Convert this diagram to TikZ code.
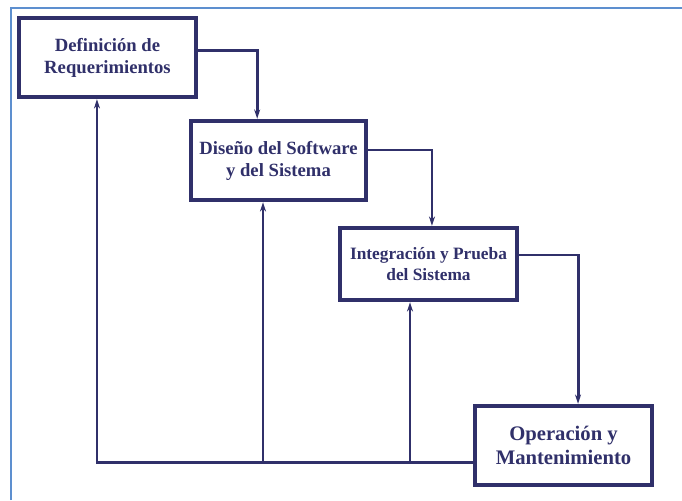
\documentclass[tikz,border=0pt]{standalone}
\usepackage{fontspec}
\setmainfont{Liberation Serif}
\usetikzlibrary{arrows.meta}

\definecolor{navy}{HTML}{30306A}
\definecolor{frameblue}{HTML}{5D8FCF}

\tikzset{
  etapa/.style={draw=navy,line width=3.3pt,fill=white,align=center,
    font=\fontsize{14}{16.5}\selectfont\bfseries,text=navy,inner sep=0pt},
  flujo/.style={draw=navy,line width=2.2pt,-{Stealth[length=7pt,width=4.5pt]}},
}

\begin{document}
\begin{tikzpicture}[x=0.75pt,y=-0.75pt]
\useasboundingbox (0,0) rectangle (682,500);
\draw[frameblue,line width=1.6pt] (11,500) -- (11,8) -- (682,8);

\node[etapa,minimum width=132.75pt,minimum height=59.25pt] (req) at (107.5,57.5)
  {Definición de\\Requerimientos};
\node[etapa,minimum width=131.25pt,minimum height=59.25pt] (dis) at (278.5,160.5)
  {Diseño del Software\\y del Sistema};
\node[etapa,minimum width=132.75pt,minimum height=54pt,
  font=\fontsize{13}{15.75}\selectfont\bfseries] (int) at (428.5,264)
  {Integración y Prueba\\del Sistema};
\node[etapa,minimum width=132.75pt,minimum height=59.25pt,
  font=\fontsize{15.5}{18}\selectfont\bfseries] (ope) at (563.5,445.5)
  {Operación y\\Mantenimiento};

% cascada hacia abajo
\draw[flujo] ([yshift=5.6pt]req.east) -| ([xshift=-16pt]dis.north);
\draw[flujo] ([yshift=7.9pt]dis.east) -| ([xshift=2.6pt]int.north);
\draw[flujo] ([yshift=6.75pt]int.east) -| ([xshift=10.9pt]ope.north);

% retornos
\coordinate (ret) at ([yshift=-12.4pt]ope.west);
\coordinate (r2) at (263,462);
\coordinate (r3) at (410,462);
\draw[flujo] (ret) -| ([xshift=-7.9pt]req.south);
\draw[flujo] (r2) -- (r2 |- dis.south);
\draw[flujo] (r3) -- (r3 |- int.south);

\end{tikzpicture}
\end{document}
